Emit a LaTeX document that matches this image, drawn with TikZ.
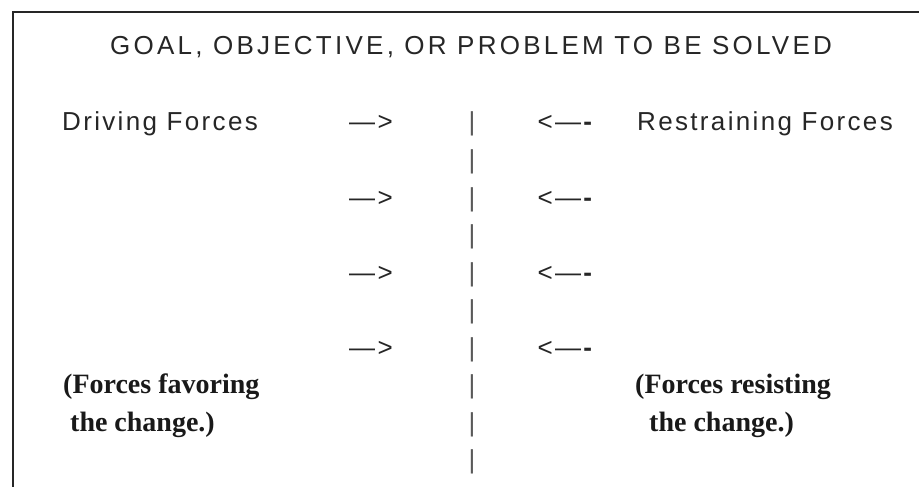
\documentclass[tikz,border=0pt]{standalone}
\usepackage{fontspec}
\newfontfamily\plainfont[LetterSpace=9]{Liberation Sans}
\newfontfamily\headfont[LetterSpace=12.5]{Liberation Sans}
\newfontfamily\notefont{Liberation Serif}
\tikzset{
  lbl/.style={inner sep=0pt, font=\plainfont\fontsize{26}{30}\selectfont, text=black!85},
  head/.style={inner sep=0pt, font=\headfont\fontsize{26}{30}\selectfont, text=black!85},
  note/.style={inner sep=0pt, anchor=base west, font=\notefont\bfseries\fontsize{28}{32}\selectfont, text=black!90}
}
\begin{document}
\begin{tikzpicture}[x=1pt,y=-1pt]
  \useasboundingbox (0,0) rectangle (919,487);
  \draw[line width=2pt, black!85] (13,487) -- (13,12.5) -- (919,12.5);

  \node[head, anchor=base] (goal) at (471,55) {GOAL, OBJECTIVE, OR PROBLEM TO BE SOLVED};
  \node[lbl, anchor=base west] (driving) at (62,131) {Driving Forces};
  \node[lbl, anchor=base west] (restraining) at (637,131) {Restraining Forces};

  \foreach \k in {0,...,9} {
    \node[lbl, anchor=base, text=black!65] (bar\k) at (472,{131+37.5*\k}) {|};
  }
  \foreach \k in {0,...,3} {
    \node[lbl, anchor=base] (push\k) at (371,{131+75*\k}) {—>};
    \node[lbl, anchor=base] (pull\k) at (566,{131+75*\k}) {<—\textbf{-}};
  }

  \node[note] (favor) at (63,393.5) {(Forces favoring};
  \node[note] (favorb) at (63,431) {\ the change.)};
  \node[note] (resist) at (635,393.5) {(Forces resisting};
  \node[note] (resistb) at (635,431) {\ \ the change.)};
\end{tikzpicture}
\end{document}
